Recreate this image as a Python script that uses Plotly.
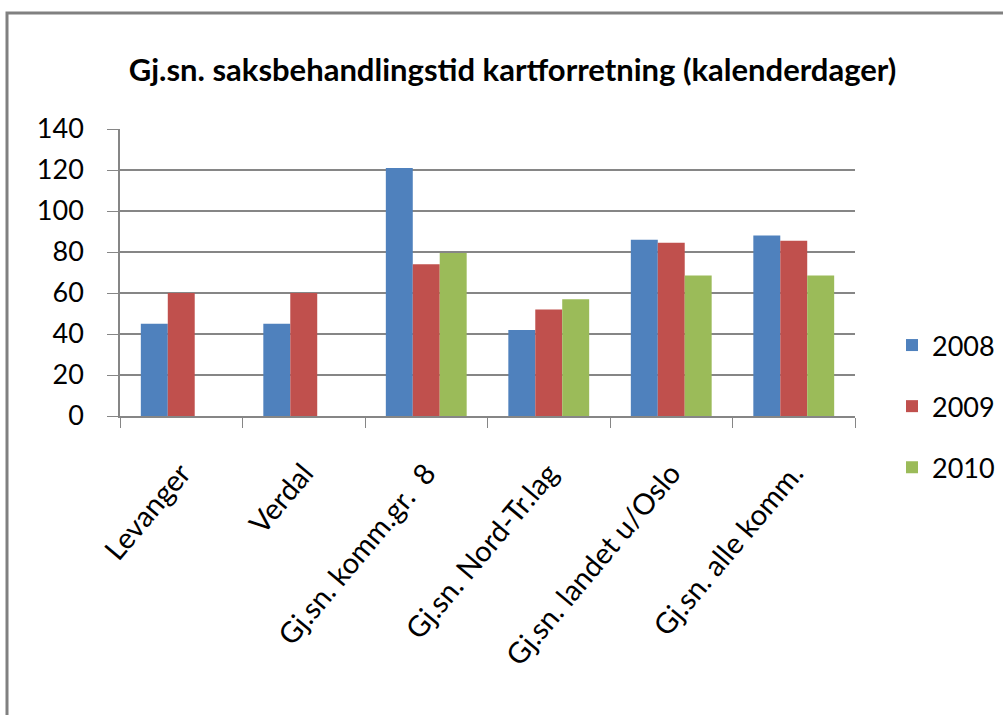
import plotly.graph_objects as go

categories = ["Levanger", "Verdal", "Gj.sn. komm.gr.  8", "Gj.sn. Nord-Tr.lag",
              "Gj.sn. landet u/Oslo", "Gj.sn. alle komm."]
years = ["2008", "2009", "2010"]
v2008 = [45, 45, 121, 42, 86, 88]
v2009 = [60, 60, 74, 52, 84.5, 85.5]
v2010 = [None, None, 79.5, 57, 68.5, 68.5]
colors = ["#4F81BD", "#C0504D", "#9BBB59"]
ticks_y = [0, 20, 40, 60, 80, 100, 120, 140]

FONT = "Lato"
fig = go.Figure()
for name, vals, c in zip(years, [v2008, v2009, v2010], colors):
    fig.add_trace(go.Bar(name=name, x=categories, y=vals, marker_color=c,
                         marker_line_width=0, legendgroup=name))

L, R, T, B = 120, 148, 129, 299
W, H = 1003, 715
pw, ph = W - L - R, H - T - B

fig.update_layout(
    width=W, height=H,
    margin=dict(l=L, r=R, t=T, b=B, autoexpand=False),
    paper_bgcolor="white", plot_bgcolor="white",
    barmode="group", bargap=0.34, bargroupgap=0,
    title=dict(text="<b>Gj.sn. saksbehandlingstid kartforretning (kalenderdager)</b>",
               x=0.511, xanchor="center", y=1 - 70 / H, yanchor="middle",
               font=dict(family=FONT, size=31, color="black")),
    legend=dict(x=(892 - L) / pw, xanchor="left", y=(416 - 321) / ph, yanchor="top",
                font=dict(family=FONT, size=27, color="black"),
                tracegroupgap=23, itemsizing="constant", bgcolor="rgba(0,0,0,0)"),
    font=dict(family=FONT, color="black"),
)
fig.update_yaxes(range=[0, 140], tickvals=ticks_y, showgrid=True, gridcolor="#868686",
                 gridwidth=1.5, showline=True, linecolor="#868686", linewidth=1.5,
                 ticks="outside", ticklen=11, tickcolor="#868686", ticklabelstandoff=18,
                 tickfont=dict(family=FONT, size=27, color="black"), zeroline=False,
                 automargin=False)
fig.update_xaxes(showline=True, linecolor="#868686", linewidth=1.5,
                 ticks="outside", ticklen=10, tickcolor="#868686", tickson="boundaries",
                 tickangle=-50, ticklabelstandoff=27,
                 tickfont=dict(family=FONT, size=29, color="black"), automargin=False)

# outer border of the chart area (gray frame)
fig.add_shape(type="rect", xref="paper", yref="paper",
              x0=(7 - L) / pw, x1=(W + 5 - L) / pw,
              y0=(416 - (H + 5)) / ph, y1=(416 - 13) / ph,
              line=dict(color="#808080", width=3), fillcolor="rgba(0,0,0,0)", layer="below")

fig.write_html("out.html", config={"displayModeBar": False},
               post_script="document.body.style.margin='0';")
